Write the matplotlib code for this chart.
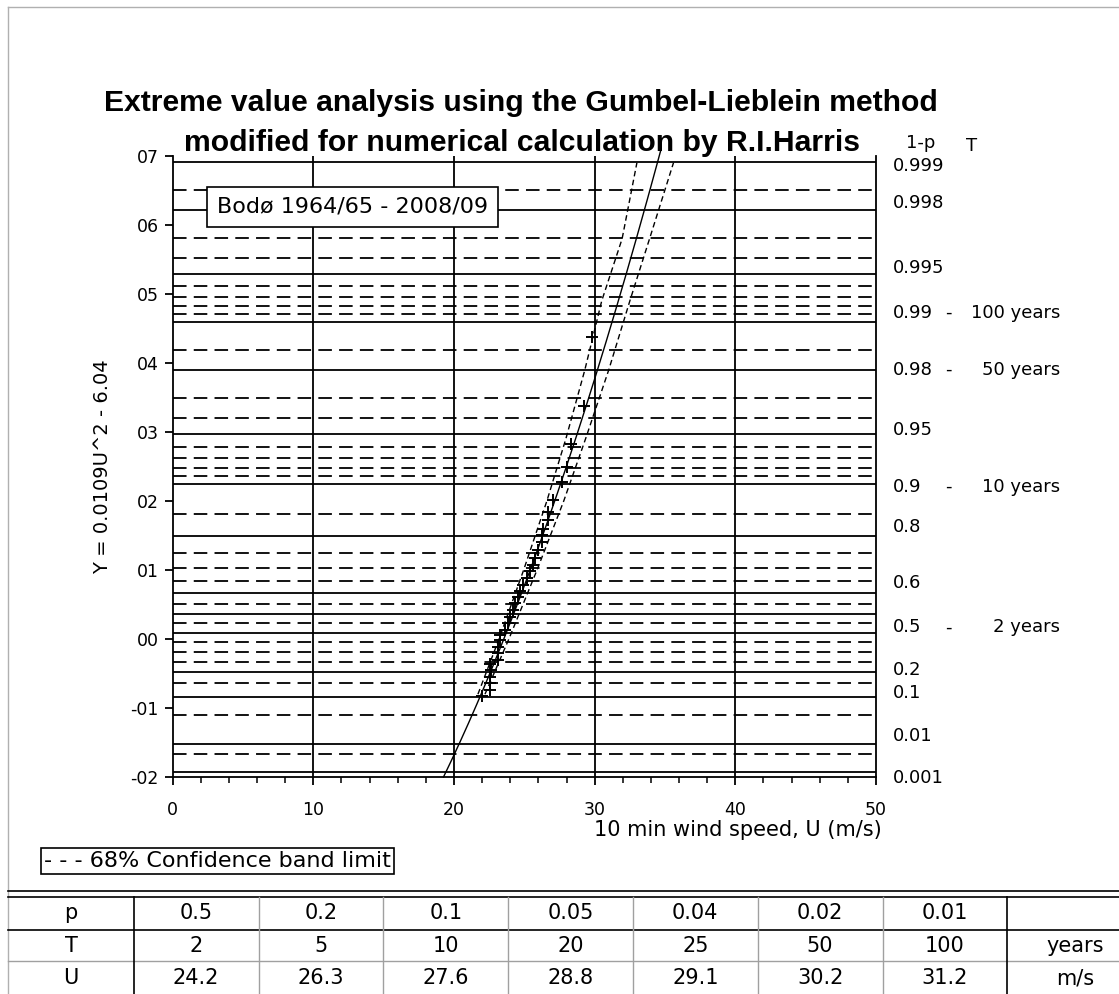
import numpy as np
import matplotlib
matplotlib.use('Agg')
import matplotlib.pyplot as plt
from matplotlib.transforms import blended_transform_factory

plt.rcParams['font.family'] = ['DejaVu Sans']

# fitted line from the y-axis label: Y = 0.0109 U^2 - 6.04
fit_a = 0.0109
fit_b = -6.04

# annual maxima (U in m/s, reduced variate Y)
obs_U = [21.96, 22.55, 22.55, 22.55, 22.6, 22.55, 23.14, 23.14, 23.14, 23.26,
         23.26, 23.62, 23.85, 23.97, 24.21, 24.33, 24.56, 24.68, 24.92, 25.16,
         25.39, 25.59, 25.75, 25.98, 26.23, 26.23, 26.34, 26.7, 26.7, 27.05,
         27.65, 28.0, 28.31, 29.25, 29.82]
obs_Y = [-0.83, -0.74, -0.64, -0.55, -0.45, -0.36, -0.30, -0.21, -0.11, -0.01,
         0.06, 0.13, 0.23, 0.32, 0.42, 0.52, 0.61, 0.69, 0.78, 0.88,
         0.98, 1.07, 1.17, 1.29, 1.41, 1.51, 1.60, 1.72, 1.84, 2.01,
         2.28, 2.50, 2.82, 3.38, 4.38]

# 68% confidence band limits
band_Y = [-0.8, 0.0, 1.0, 2.0, 2.9, 3.9, 4.9, 5.8, 6.9]
band_lo = [21.7, 23.2, 24.95, 26.6, 27.95, 29.3, 30.5, 31.95, 33.0]
band_hi = [22.2, 23.9, 25.9, 27.8, 29.35, 31.0, 32.5, 33.9, 35.6]

# probability grid (1-p)
solid_P = [0.999, 0.998, 0.995, 0.99, 0.98, 0.95, 0.9, 0.8, 0.6, 0.5, 0.4,
           0.2, 0.1, 0.01, 0.001]
dashed_P = [0.9985, 0.997, 0.996, 0.994, 0.993, 0.992, 0.991, 0.985, 0.97,
            0.96, 0.94, 0.93, 0.92, 0.91, 0.85, 0.75, 0.7, 0.65, 0.55, 0.45,
            0.35, 0.3, 0.25, 0.15, 0.05, 0.005]

# right hand labels: text, return period, Y position
right_labels = ['0.999', '0.998', '0.995', '0.99', '0.98', '0.95', '0.9',
                '0.8', '0.6', '0.5', '0.2', '0.1', '0.01', '0.001']
right_periods = ['', '', '', '100 years', '50 years', '', '10 years',
                 '', '', '2 years', '', '', '', '']
right_pos = [6.86, 6.32, 5.38, 4.73, 3.90, 3.03, 2.21, 1.63, 0.81, 0.17,
             -0.45, -0.78, -1.41, -2.01]

ytick_vals = [-2, -1, 0, 1, 2, 3, 4, 5, 6, 7]
ytick_labels = ['-02', '-01', '00', '01', '02', '03', '04', '05', '06', '07']

# table under the chart
table_rows = ['p', 'T', 'U']
table_p = ['0.5', '0.2', '0.1', '0.05', '0.04', '0.02', '0.01']
table_T = ['2', '5', '10', '20', '25', '50', '100']
table_U = ['24.2', '26.3', '27.6', '28.8', '29.1', '30.2', '31.2']
table_units = ['', 'years', 'm/s']


def gumbel_y(P):
    return -np.log(-np.log(np.array(P)))


W, H = 1119, 994
fig = plt.figure(figsize=(W/100, H/100), dpi=100)
fig.patch.set_facecolor('white')

ax = fig.add_axes([172.7/W, 1-777/H, 703.3/W, 621/H])
ax.set_xlim(0, 50)
ax.set_ylim(-2, 7)

dash = (0, (7.5, 4.0))
for y in gumbel_y(solid_P):
    ax.axhline(y, color='black', lw=1.3, zorder=1)
for y in gumbel_y(dashed_P):
    ax.axhline(y, color='black', lw=1.3, linestyle=dash, zorder=1)
for x in [10, 20, 30, 40]:
    ax.axvline(x, color='black', lw=1.3, zorder=1)

yy = np.linspace(-2, 7.1, 200)
ax.plot(np.sqrt((yy - fit_b)/fit_a), yy, color='black', lw=1.0, zorder=3,
        clip_on=False)
ax.plot(band_lo, band_Y, color='black', lw=1.0, linestyle=(0, (4, 2.5)), zorder=3)
ax.plot(band_hi, band_Y, color='black', lw=1.0, linestyle=(0, (4, 2.5)), zorder=3)
ax.plot(obs_U, obs_Y, linestyle='none', marker='+', ms=8, mew=1.4,
        color='black', zorder=4)

for s in ['left', 'bottom', 'right']:
    ax.spines[s].set_linewidth(1.3)
ax.spines['top'].set_visible(False)

ax.set_yticks(ytick_vals)
ax.set_yticklabels(ytick_labels)
ax.set_xticks([0, 10, 20, 30, 40, 50])
ax.set_xticks(np.arange(0, 51, 2), minor=True)
ax.tick_params(axis='y', which='major', direction='out', length=6,
               width=1.3, labelsize=12.5, pad=4)
ax.tick_params(axis='x', which='major', direction='out', length=6,
               width=1.3, labelsize=12.5, pad=11.5)
ax.tick_params(axis='x', which='minor', direction='out', length=4, width=1.1)
ax.tick_params(axis='y', which='minor', left=False)
ax.set_ylabel('Y = 0.0109U^2 - 6.04', fontsize=14)
ax.yaxis.set_label_coords(-0.086, 0.5)

trans = blended_transform_factory(ax.transAxes, ax.transData)
for lab, per, y in zip(right_labels, right_periods, right_pos):
    ax.text(1.024, y, lab, transform=trans, ha='left', va='center',
            fontsize=13, clip_on=False)
    if per:
        ax.text((948-172.7)/703.3, y, '-', transform=trans, ha='center',
                va='center', fontsize=13, clip_on=False)
        ax.text((1060-172.7)/703.3, y, per, transform=trans, ha='right',
                va='center', fontsize=13, clip_on=False)

# overlay in pixel coordinates for titles, boxes and table
ov = fig.add_axes([0, 0, 1, 1], zorder=5)
ov.set_xlim(0, W)
ov.set_ylim(H, 0)
ov.axis('off')

ov.plot([8, 8], [7, H], color='#b0b0b0', lw=1)
ov.plot([8, W], [7, 7], color='#b0b0b0', lw=1)

ov.text(521, 103, 'Extreme value analysis using the Gumbel-Lieblein method',
        ha='center', va='center', fontsize=21.7, fontweight='bold',
        family='Liberation Sans')
ov.text(522, 143, 'modified for numerical calculation by R.I.Harris',
        ha='center', va='center', fontsize=21.7, fontweight='bold',
        family='Liberation Sans')
ov.text(921, 143, '1-p', ha='center', va='center', fontsize=13)
ov.text(972, 146, 'T', ha='center', va='center', fontsize=13)

ov.text(217, 207, 'Bodø 1964/65 - 2008/09', ha='left', va='center', fontsize=16,
        bbox=dict(boxstyle='square,pad=0.45', fc='white', ec='black', lw=1.2))
ov.text(738, 830, '10 min wind speed, U (m/s)', ha='center', va='center',
        fontsize=15)
ov.text(44, 861, '- - - 68% Confidence band limit', ha='left', va='center',
        fontsize=16,
        bbox=dict(boxstyle='square,pad=0.15', fc='white', ec='black', lw=1.2))

# table grid
col0 = 133.7
colw = 124.8
ov.plot([8, W], [891, 891], color='black', lw=1.2)
ov.plot([8, W], [897, 897], color='black', lw=1.2)
ov.plot([8, W], [930, 930], color='black', lw=1.2)
ov.plot([8, W], [961, 961], color='#a0a0a0', lw=1)
for k in range(1, 7):
    ov.plot([col0 + k*colw]*2, [897, H], color='#a0a0a0', lw=1)
ov.plot([col0, col0], [897, H], color='black', lw=1.2)
ov.plot([col0 + 7*colw]*2, [897, H], color='black', lw=1.2)

row_y = [913, 946, 978]
for r, (name, vals, unit) in enumerate(zip(table_rows, [table_p, table_T, table_U],
                                           table_units)):
    ov.text(71, row_y[r], name, ha='center', va='center', fontsize=15)
    for k, v in enumerate(vals):
        ov.text(col0 + (k + 0.5)*colw, row_y[r], v, ha='center', va='center',
                fontsize=15)
    if unit:
        ov.text(1075, row_y[r], unit, ha='center', va='center', fontsize=15)

fig.savefig('out.png', dpi=100)
